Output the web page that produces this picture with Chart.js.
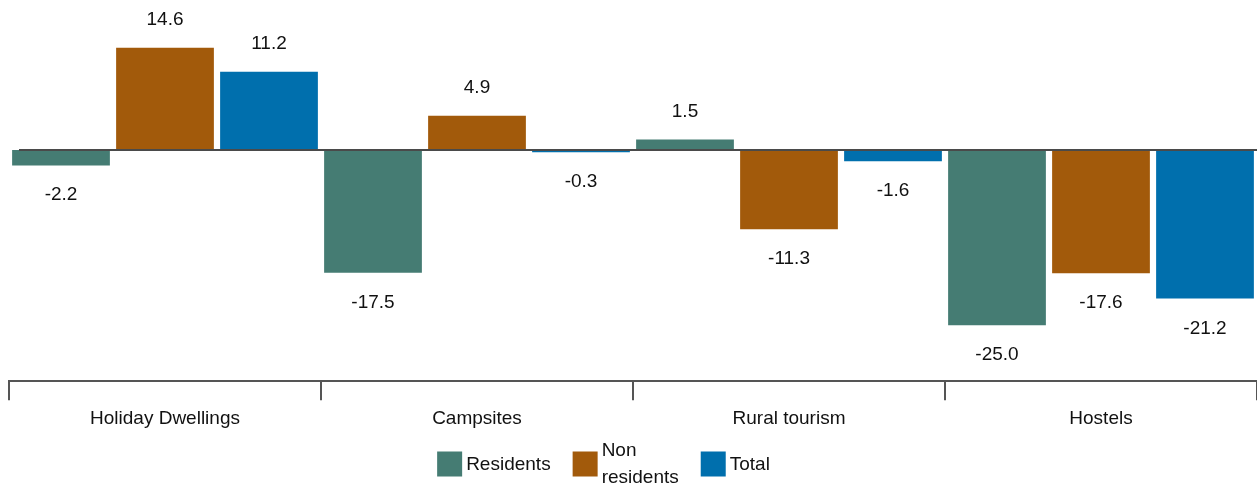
<!DOCTYPE html>
<html><head><meta charset="utf-8">
<script src="https://cdn.jsdelivr.net/npm/chart.js@4"></script>
<style>html,body{margin:0;padding:0;background:#fff;}canvas{display:block;}</style>
</head><body>
<canvas id="c" width="1257" height="486"></canvas>
<script>
const categories = ['Holiday Dwellings', 'Campsites', 'Rural tourism', 'Hostels'];
const residents = [-2.2, -17.5, 1.5, -25.0];
const nonResidents = [14.6, 4.9, -11.3, -17.6];
const total = [11.2, -0.3, -1.6, -21.2];
const seriesLabels = ['Residents', ['Non', 'residents'], 'Total'];
const seriesColors = ['#457c73', '#a25a0b', '#006fad'];
const yMin = -33, yMax = 21;

const FONT = "'Liberation Sans', Arial, sans-serif";
const TEXT_COLOR = '#111';

const valueLabels = {
  id: 'valueLabels',
  afterDatasetsDraw(chart) {
    const ctx = chart.ctx;
    const y0 = chart.scales.y.getPixelForValue(0);
    ctx.save();
    ctx.strokeStyle = '#4a4a4a';
    ctx.lineWidth = 2;
    ctx.beginPath();
    ctx.moveTo(chart.chartArea.left + 10, y0);
    ctx.lineTo(chart.chartArea.right, y0);
    ctx.stroke();
    ctx.font = '19px ' + FONT;
    ctx.fillStyle = TEXT_COLOR;
    ctx.textAlign = 'center';
    ctx.textBaseline = 'alphabetic';
    chart.data.datasets.forEach((ds, di) => {
      chart.getDatasetMeta(di).data.forEach((bar, i) => {
        const v = ds.data[i];
        const y = v >= 0 ? bar.y - 23 : bar.y + 35;
        ctx.fillText(v.toFixed(1), bar.x, y);
      });
    });
    ctx.restore();
  }
};

const customLegend = {
  id: 'customLegend',
  afterDraw(chart) {
    const ctx = chart.ctx;
    ctx.save();
    ctx.font = '19px ' + FONT;
    ctx.textBaseline = 'alphabetic';
    ctx.textAlign = 'left';
    const box = 25, gap = 4, spacing = 22, lineH = 26.5;
    const items = chart.data.datasets.map(ds => {
      const lines = Array.isArray(ds.label) ? ds.label : [ds.label];
      const w = Math.max(...lines.map(l => ctx.measureText(l).width));
      return { lines, w, color: ds.backgroundColor };
    });
    const totalW = items.reduce((s, it) => s + box + gap + it.w, 0) + spacing * (items.length - 1);
    const cx = chart.width / 2 - 25;
    let x = cx - totalW / 2;
    const cy = 464;
    items.forEach(it => {
      ctx.fillStyle = it.color;
      ctx.fillRect(x, cy - box / 2, box, box);
      ctx.fillStyle = TEXT_COLOR;
      const n = it.lines.length;
      it.lines.forEach((l, k) => {
        const base = cy + 5.5 + (k - (n - 1) / 2) * lineH;
        ctx.fillText(l, x + box + gap, base);
      });
      x += box + gap + it.w + spacing;
    });
    ctx.restore();
  }
};

new Chart(document.getElementById('c'), {
  type: 'bar',
  data: {
    labels: categories,
    datasets: [
      { label: seriesLabels[0], data: residents, backgroundColor: seriesColors[0] },
      { label: seriesLabels[1], data: nonResidents, backgroundColor: seriesColors[1] },
      { label: seriesLabels[2], data: total, backgroundColor: seriesColors[2] }
    ]
  },
  options: {
    responsive: false,
    animation: false,
    layout: { padding: { left: 9, right: 0, top: 3, bottom: 49 } },
    datasets: { bar: { categoryPercentage: 1.0, barPercentage: 0.94, borderWidth: 0 } },
    scales: {
      x: {
        grid: { offset: true, drawOnChartArea: false, tickLength: 19, color: '#555', lineWidth: 2 },
        border: { display: true, color: '#555', width: 2 },
        ticks: { font: { family: FONT, size: 19 }, color: TEXT_COLOR, padding: 7 }
      },
      y: { display: false, min: yMin, max: yMax }
    },
    plugins: {
      legend: { display: false },
      tooltip: { enabled: false }
    }
  },
  plugins: [valueLabels, customLegend]
});
</script>
</body></html>
